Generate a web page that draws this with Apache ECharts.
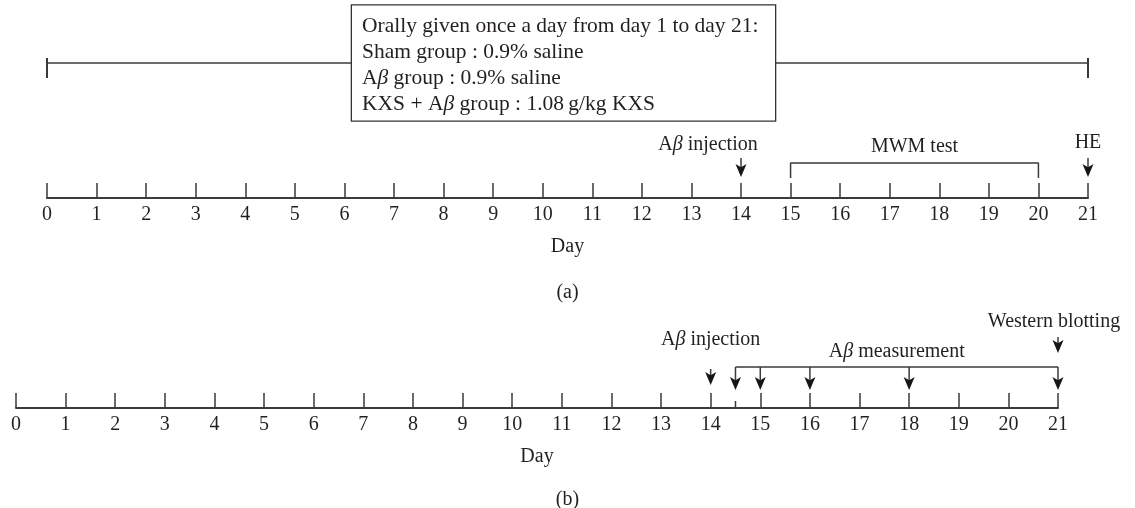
<!DOCTYPE html>
<html>
<head>
<meta charset="utf-8">
<script src="https://cdn.jsdelivr.net/npm/echarts@6.0.0/dist/echarts.min.js"></script>
<style>html,body{margin:0;padding:0;background:#fff}#c{width:1135px;height:508px}</style>
</head>
<body>
<div id="c"></div>
<script>
// ---------- data ----------
const tickDays = [0,1,2,3,4,5,6,7,8,9,10,11,12,13,14,15,16,17,18,19,20,21];
const axisName = 'Day';
const panelLabels = ['(a)', '(b)'];

// panel (a)
const dosingPeriodA = [0, 21];
const boxLines = [
  'Orally given once a day from day 1 to day 21:',
  'Sham group : 0.9% saline',
  'A{b|β} group : 0.9% saline',
  'KXS + A{b|β} group : 1.08\u2009g/kg KXS'
];
const injectionDayA = 14;
const mwmPeriod = [15, 20];
const heDay = 21;
const eventLabelsA = ['A{b|β} injection', 'MWM test', 'HE'];

// panel (b)
const injectionDayB = 14;
const measurementDays = [14.5, 15, 16, 18, 21];
const westernDay = 21;
const eventLabelsB = ['A{b|β} injection', 'A{b|β} measurement', 'Western blotting'];

// ---------- styles / layout ----------
const FONT = "'Liberation Serif','Times New Roman',serif";
const TXT = '#231f20';
const LN = '#3a3a3a';
const FS = 20;
const BOXFS = 21.5;
const arrowPath = 'path://M0,0 L5,3 L10,0 L5,12 Z';

// heights above axis line (px units of hidden y axes)
const A = { line: 135, capLo: 120, capHi: 140, arrowTop: 40, tip: 21, head: 12, bracket: 35, foot: 20 };
const B = { injTop: 39, injTip: 23, bracket: 41, tip: 18, head: 12, wbTop: 71, wbTip: 55, minor: 7 };

function richFor(fs) { return { b: { fontStyle: 'italic', fontFamily: FONT, fontSize: fs, color: TXT } }; }

function xAxisCfg(gridIndex) {
  return {
    gridIndex, type: 'value', min: 0, max: 21, interval: 1,
    axisLine: { show: true, onZero: false, lineStyle: { color: LN, width: 2 } },
    axisTick: { show: true, inside: true, length: 15, lineStyle: { color: LN, width: 1.5 } },
    axisLabel: { margin: 7, fontFamily: FONT, fontSize: FS, color: TXT,
      formatter: v => tickDays.includes(v) ? String(v) : '' },
    splitLine: { show: false },
    name: axisName, nameLocation: 'middle', nameGap: 39,
    nameTextStyle: { fontFamily: FONT, fontSize: FS, color: TXT }
  };
}

function strokeSeries(axisIdx, pts, width) {
  return {
    type: 'line', xAxisIndex: axisIdx, yAxisIndex: axisIdx, data: pts,
    showSymbol: false, symbol: 'none', silent: true, z: 2, animation: false,
    lineStyle: { color: LN, width: width || 1.5, opacity: 1 }
  };
}

function labelItem(x, h, text, dist, dx) {
  return { value: [x, h], label: { formatter: text, distance: dist, offset: [dx || 0, 0] } };
}

const labelBase = { show: true, position: 'top', fontFamily: FONT, fontSize: FS, color: TXT, lineHeight: 20, rich: richFor(FS) };

const strokesA = [
  strokeSeries(0, [[dosingPeriodA[0], A.line], [dosingPeriodA[1], A.line]]),
  strokeSeries(0, [[dosingPeriodA[0], A.capLo], [dosingPeriodA[0], A.capHi]], 2),
  strokeSeries(0, [[dosingPeriodA[1], A.capLo], [dosingPeriodA[1], A.capHi]], 2),
  strokeSeries(0, [[injectionDayA, A.arrowTop], [injectionDayA, A.tip + A.head - 3]]),
  strokeSeries(0, [[heDay, A.arrowTop], [heDay, A.tip + A.head - 3]]),
  strokeSeries(0, [[mwmPeriod[0], A.foot], [mwmPeriod[0], A.bracket], [mwmPeriod[1], A.bracket], [mwmPeriod[1], A.foot]])
];

const strokesB = [
  strokeSeries(1, [[injectionDayB, B.injTop], [injectionDayB, B.injTip + B.head - 3]]),
  strokeSeries(1, [[westernDay, B.wbTop], [westernDay, B.wbTip + B.head - 3]]),
  strokeSeries(1, [[measurementDays[0], B.bracket], [measurementDays[measurementDays.length - 1], B.bracket]]),
  ...measurementDays.map(d => strokeSeries(1, [[d, B.bracket], [d, B.tip + B.head - 3]])),
  strokeSeries(1, [[measurementDays[0], 0], [measurementDays[0], B.minor]])
];

const solid = { opacity: 1, color: '#161616' };

const option = {
  animation: false,
  backgroundColor: '#fff',
  title: [
    { text: panelLabels[0], left: 'center', top: 277, textStyle: { fontFamily: FONT, fontSize: FS, fontWeight: 'normal', color: TXT, lineHeight: 22 } },
    { text: panelLabels[1], left: 'center', top: 484, textStyle: { fontFamily: FONT, fontSize: FS, fontWeight: 'normal', color: TXT, lineHeight: 22 } }
  ],
  grid: [
    { left: 47, right: 47, top: 0, height: 198 },
    { left: 16, right: 77, top: 220, height: 188 }
  ],
  xAxis: [xAxisCfg(0), xAxisCfg(1)],
  yAxis: [
    { gridIndex: 0, type: 'value', min: 0, max: 198, show: false },
    { gridIndex: 1, type: 'value', min: 0, max: 188, show: false }
  ],
  series: [
    ...strokesA,
    {
      type: 'scatter', xAxisIndex: 0, yAxisIndex: 0, symbol: arrowPath, symbolSize: [11, 13],
      symbolOffset: [0, '-50%'], itemStyle: solid, z: 3, silent: true,
      data: [[injectionDayA, A.tip], [heDay, A.tip]]
    },
    {
      type: 'scatter', xAxisIndex: 0, yAxisIndex: 0, symbolSize: 0, z: 4, silent: true, itemStyle: solid, label: labelBase,
      data: [
        labelItem(injectionDayA, A.arrowTop, eventLabelsA[0], 3, -33),
        labelItem((mwmPeriod[0] + mwmPeriod[1]) / 2, A.bracket, eventLabelsA[1], 6),
        labelItem(heDay, A.arrowTop, eventLabelsA[2], 5)
      ]
    },
    {
      type: 'scatter', xAxisIndex: 0, yAxisIndex: 0, symbolSize: 0, z: 8, silent: true, itemStyle: solid,
      data: [{ value: [(dosingPeriodA[0] + dosingPeriodA[1]) / 2, A.line] }],
      label: {
        show: true, position: 'inside', align: 'left', verticalAlign: 'middle', offset: [-215.5, 0],
        formatter: boxLines.join('\n'), width: 403, padding: [8, 10, 3, 10], lineHeight: 26,
        fontFamily: FONT, fontSize: BOXFS, color: TXT, rich: richFor(BOXFS),
        backgroundColor: '#fff', borderColor: '#333', borderWidth: 1.3
      }
    },
    ...strokesB,
    {
      type: 'scatter', xAxisIndex: 1, yAxisIndex: 1, symbol: arrowPath, symbolSize: [11, 13],
      symbolOffset: [0, '-50%'], itemStyle: solid, z: 3, silent: true,
      data: [[injectionDayB, B.injTip], [westernDay, B.wbTip], ...measurementDays.map(d => [d, B.tip])]
    },
    {
      type: 'scatter', xAxisIndex: 1, yAxisIndex: 1, symbolSize: 0, z: 4, silent: true, itemStyle: solid, label: labelBase,
      data: [
        labelItem(injectionDayB, B.injTop, eventLabelsB[0], 19),
        labelItem((measurementDays[0] + measurementDays[measurementDays.length - 1]) / 2, B.bracket, eventLabelsB[1], 5),
        labelItem(westernDay, B.wbTop, eventLabelsB[2], 5, -4)
      ]
    }
  ]
};

const chart = echarts.init(document.getElementById('c'), null, { renderer: 'canvas' });
chart.setOption(option);
</script>
</body>
</html>
